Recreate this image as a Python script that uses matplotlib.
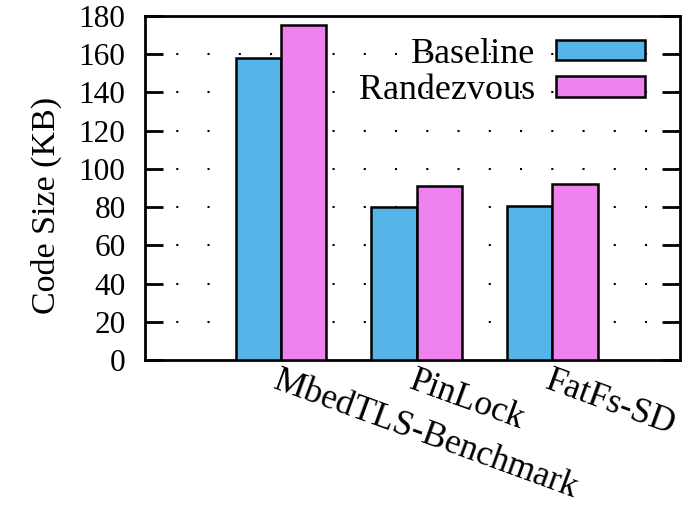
import numpy as np
import matplotlib
matplotlib.use('Agg')
import matplotlib.pyplot as plt

# data
benchmarks = ['MbedTLS-Benchmark', 'PinLock', 'FatFs-SD']
baseline = [158.2, 80.0, 80.4]
randezvous = [175.3, 90.8, 92.0]
series_names = ['Baseline', 'Randezvous']
y_ticks = [0, 20, 40, 60, 80, 100, 120, 140, 160, 180]

plt.rcParams['font.family'] = ['Liberation Serif', 'DejaVu Serif']

fig = plt.figure(figsize=(6.95, 5.07), dpi=100)
ax = fig.add_axes([145/695, 1 - 360/507, (680-145)/695, (360-16)/507])

x = np.arange(len(benchmarks))
w = 1/3
ax.bar(x - w/2, baseline, w, color='#56b4e9', edgecolor='black', linewidth=1.8, label=series_names[0], zorder=3)
ax.bar(x + w/2, randezvous, w, color='#ee82ee', edgecolor='black', linewidth=1.8, label=series_names[1], zorder=3)

ax.set_xlim(-1.0, 2.94)
ax.set_ylim(0, 180)
ax.set_yticks(y_ticks)
ax.set_ylabel('Code Size (KB)', fontsize=24.5)
ax.yaxis.set_label_coords(-0.155, 0.45)

# dotted horizontal grid (gnuplot style)
for yv in y_ticks[1:-1]:
    ax.axhline(yv, color='black', linewidth=1.5, linestyle=(0, (1, 14)), zorder=1)

ax.tick_params(axis='y', direction='in', length=13, width=2, right=True, pad=14, labelsize=22.5)
ax.set_xticks(x)
ax.set_xticklabels([])
ax.tick_params(axis='x', length=0)
for sp in ax.spines.values():
    sp.set_linewidth(2)

# rotated category labels
for xi, name in zip(x, benchmarks):
    ax.annotate(name, xy=(xi, 0), xycoords=('data', 'axes fraction'),
                xytext=(0, -3), textcoords='offset points',
                rotation=-20, rotation_mode='anchor', ha='left', va='top', fontsize=25.5)

leg = ax.legend(loc='upper right', bbox_to_anchor=(0.9346, 0.937), frameon=False,
                fontsize=26, markerfirst=False,
                handlelength=2.47, handleheight=0.5, handletextpad=0.58,
                borderaxespad=0, borderpad=0, labelspacing=0.1)
for h in leg.legend_handles:
    h.set_linewidth(1.8)

fig.savefig('out.png', dpi=100)
